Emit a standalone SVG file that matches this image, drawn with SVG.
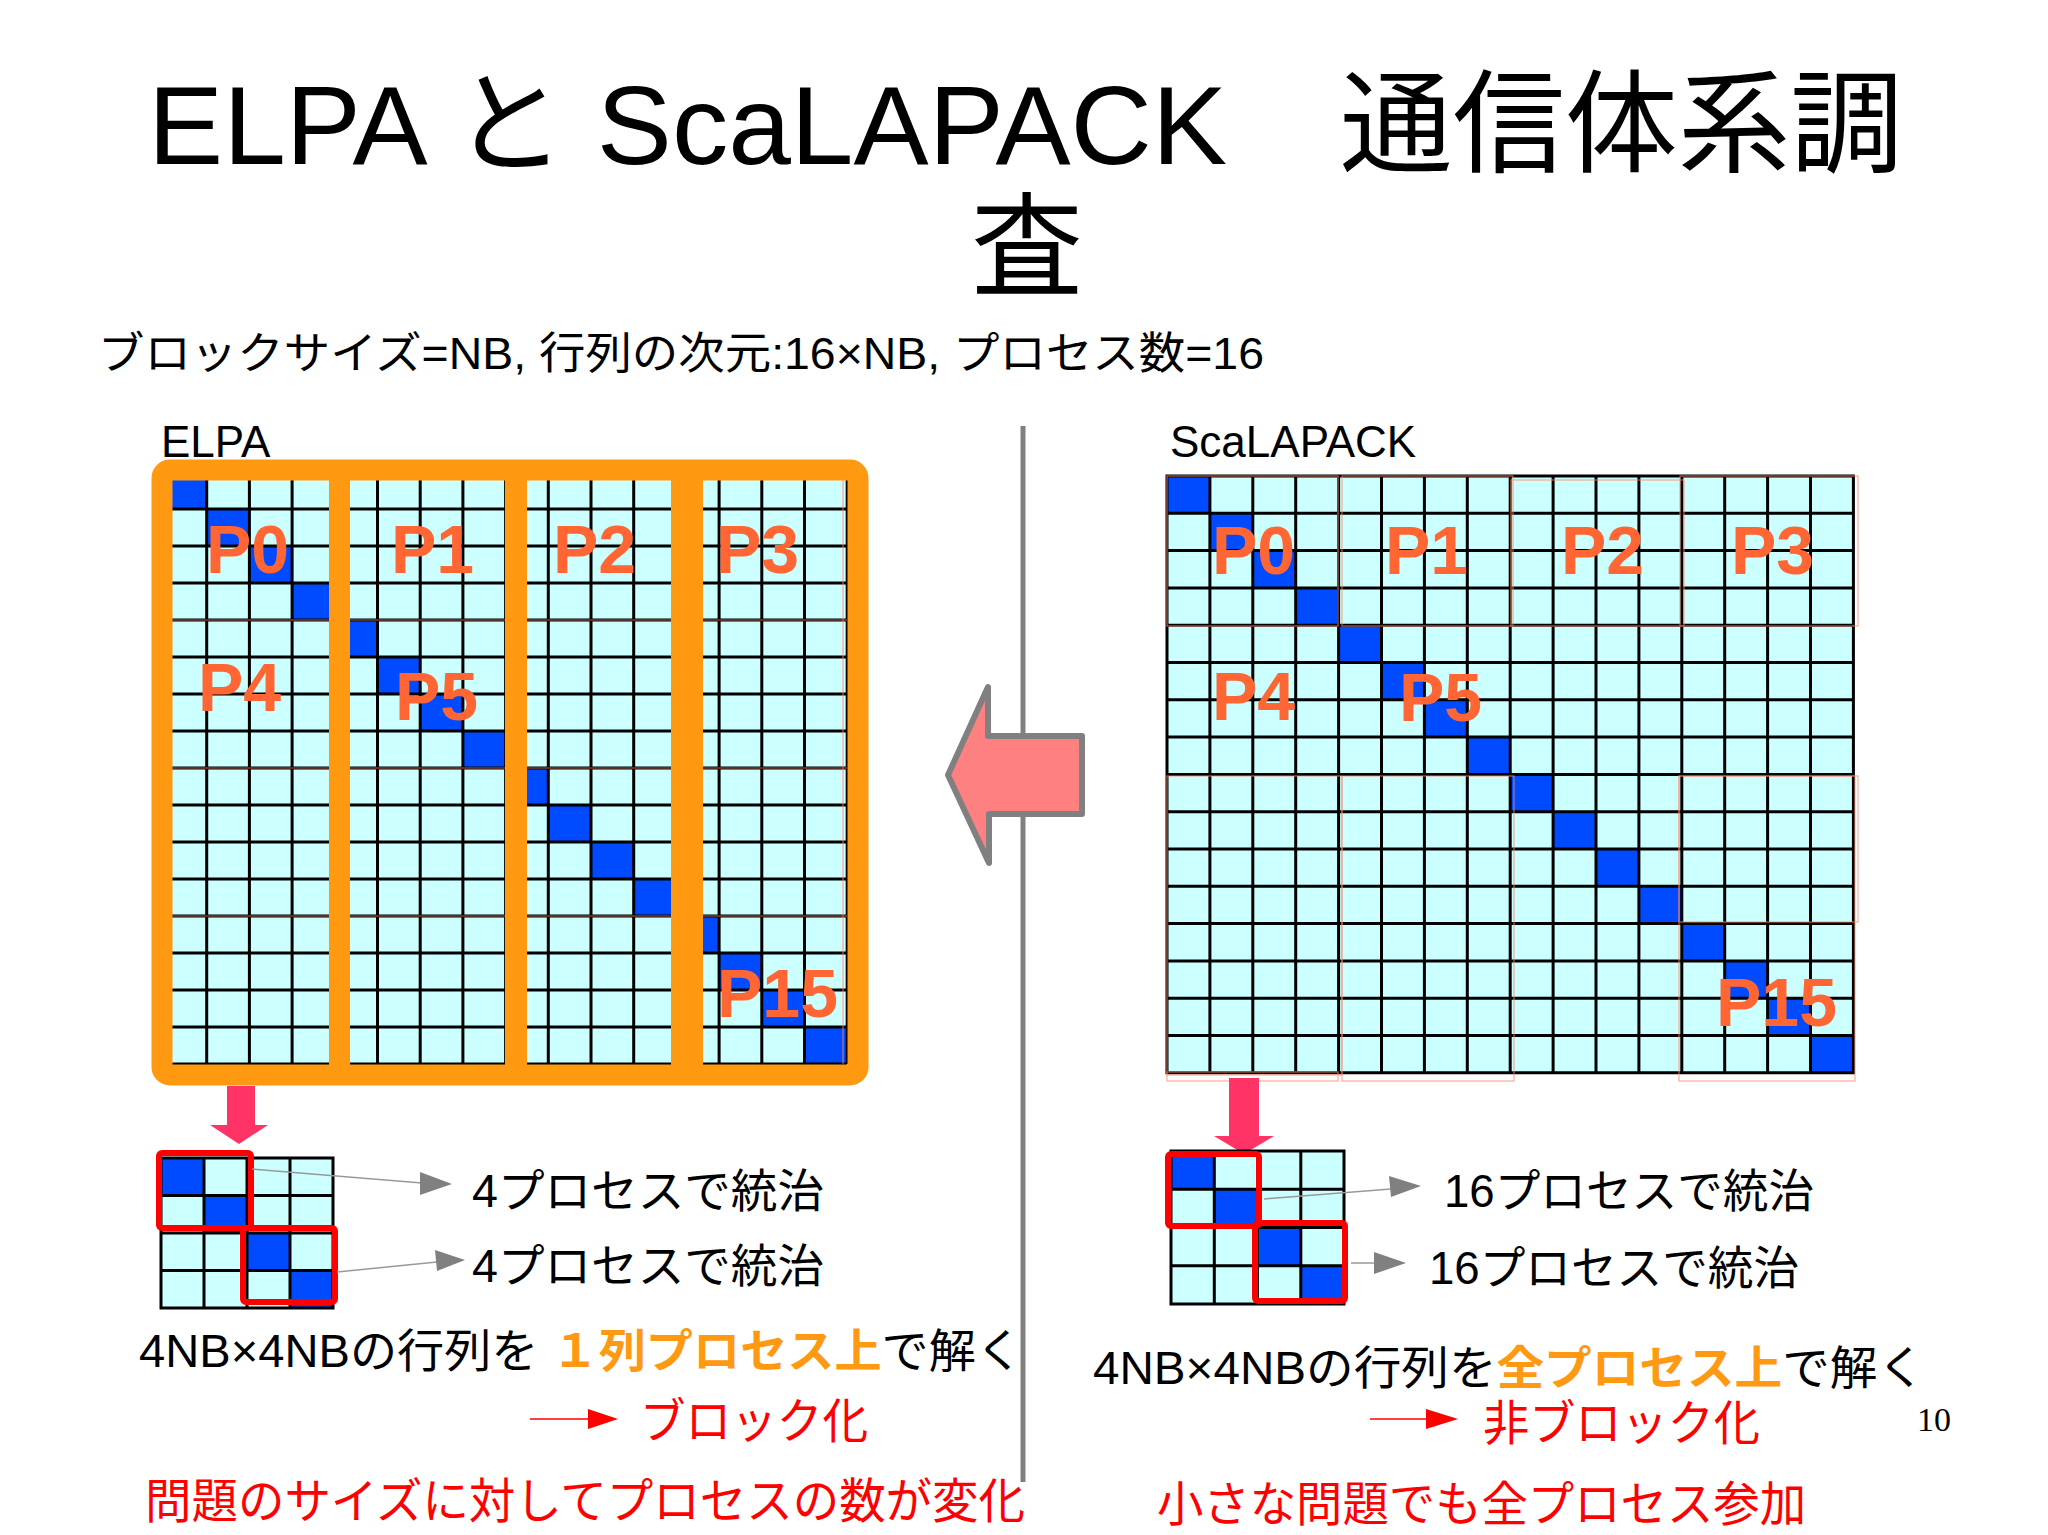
<svg xmlns="http://www.w3.org/2000/svg" width="2048" height="1535" viewBox="0 0 2048 1535">
<defs>
<style>
.t{font-family:"Liberation Sans","Noto Sans CJK JP",sans-serif;fill:#000}
.p{font-family:"Liberation Sans",sans-serif;font-weight:bold;font-size:68px;fill:#FF6633}
.gl{fill:none;stroke:#000;stroke-width:3}
.bl{fill:#004BFF}
.cy{fill:#CCFFFF}
.blk{fill:none;stroke:#FF8866;stroke-width:1.2;opacity:.7}
.red{fill:none;stroke:#FF0000;stroke-width:6}
.ga{stroke:#999;stroke-width:1.5}
.gt{fill:#808080}
.pk{fill:#FF3366}
</style>
</defs>
<rect width="2048" height="1535" fill="#fff"/>
<g id="title">
<text class="t" x="148" y="164" font-size="112" textLength="1755" lengthAdjust="spacingAndGlyphs">ELPA と ScaLAPACK　通信体系調</text>
<text class="t" x="1027" y="287" font-size="112" text-anchor="middle">査</text>
<text class="t" x="98" y="369" font-size="44" textLength="1166" lengthAdjust="spacingAndGlyphs">ブロックサイズ=NB, 行列の次元:16×NB, プロセス数=16</text>
</g>
<g id="divider"><line x1="1023" y1="426" x2="1023" y2="1482" stroke="#808080" stroke-width="5"/></g>
<g id="elpa">
<text class="t" x="161" y="457" font-size="44">ELPA</text>
<rect class="cy" x="164" y="472" width="683" height="592"/>
<g class="bl">
<rect x="164" y="472" width="42.7" height="37"/><rect x="206.7" y="509" width="42.7" height="37"/><rect x="249.4" y="546" width="42.7" height="37"/><rect x="292.1" y="583" width="42.7" height="37"/>
<rect x="334.8" y="620" width="42.7" height="37"/><rect x="377.5" y="657" width="42.7" height="37"/><rect x="420.2" y="694" width="42.7" height="37"/><rect x="462.9" y="731" width="42.7" height="37"/>
<rect x="505.6" y="768" width="42.7" height="37"/><rect x="548.3" y="805" width="42.7" height="37"/><rect x="591" y="842" width="42.7" height="37"/><rect x="633.7" y="879" width="42.7" height="37"/>
<rect x="676.4" y="916" width="42.7" height="37"/><rect x="719.1" y="953" width="42.7" height="37"/><rect x="761.8" y="990" width="42.7" height="37"/><rect x="804.5" y="1027" width="42.7" height="37"/>
</g>
<path class="gl" d="M206.7 472V1064M249.4 472V1064M292.1 472V1064M334.8 472V1064M377.5 472V1064M420.2 472V1064M462.9 472V1064M505.6 472V1064M548.3 472V1064M591 472V1064M633.7 472V1064M676.4 472V1064M719.1 472V1064M761.8 472V1064M804.5 472V1064M847.2 472V1064M164 509H847M164 546H847M164 583H847M164 620H847M164 657H847M164 694H847M164 731H847M164 768H847M164 805H847M164 842H847M164 879H847M164 916H847M164 953H847M164 990H847M164 1027H847M164 1064H847"/>
<g class="blk"><path d="M164 620H847M164 768H847M164 916H847M843 472V1064"/></g>
<g fill="#FF9911">
<rect x="329" y="470" width="21" height="605"/><rect x="505" y="470" width="22" height="605"/><rect x="671" y="470" width="32" height="605"/>
</g>
<rect x="162" y="470" width="696" height="605" rx="8" fill="none" stroke="#FF9911" stroke-width="21"/>
<text class="p" x="206" y="573">P0</text><text class="p" x="391" y="573">P1</text><text class="p" x="553" y="573">P2</text><text class="p" x="716" y="573">P3</text>
<text class="p" x="198" y="711">P4</text><text class="p" x="395" y="720">P5</text><text class="p" x="717" y="1017">P15</text>
</g>
<g id="scalapack">
<text class="t" x="1170" y="457" font-size="44">ScaLAPACK</text>
<rect class="cy" x="1167" y="476" width="686.4" height="596.8"/>
<g class="bl">
<rect x="1167" y="476" width="42.9" height="37.3"/><rect x="1209.9" y="513.3" width="42.9" height="37.3"/><rect x="1252.8" y="550.6" width="42.9" height="37.3"/><rect x="1295.7" y="587.9" width="42.9" height="37.3"/>
<rect x="1338.6" y="625.2" width="42.9" height="37.3"/><rect x="1381.5" y="662.5" width="42.9" height="37.3"/><rect x="1424.4" y="699.8" width="42.9" height="37.3"/><rect x="1467.3" y="737.1" width="42.9" height="37.3"/>
<rect x="1510.2" y="774.4" width="42.9" height="37.3"/><rect x="1553.1" y="811.7" width="42.9" height="37.3"/><rect x="1596" y="849" width="42.9" height="37.3"/><rect x="1638.9" y="886.3" width="42.9" height="37.3"/>
<rect x="1681.8" y="923.6" width="42.9" height="37.3"/><rect x="1724.7" y="960.9" width="42.9" height="37.3"/><rect x="1767.6" y="998.2" width="42.9" height="37.3"/><rect x="1810.5" y="1035.5" width="42.9" height="37.3"/>
</g>
<path class="gl" d="M1167 476H1853.4V1072.8H1167ZM1209.9 476V1073M1252.8 476V1073M1295.7 476V1073M1338.6 476V1073M1381.5 476V1073M1424.4 476V1073M1467.3 476V1073M1510.2 476V1073M1553.1 476V1073M1596 476V1073M1638.9 476V1073M1681.8 476V1073M1724.7 476V1073M1767.6 476V1073M1810.5 476V1073M1167 513.3H1853M1167 550.6H1853M1167 587.9H1853M1167 625.2H1853M1167 662.5H1853M1167 699.8H1853M1167 737.1H1853M1167 774.4H1853M1167 811.7H1853M1167 849H1853M1167 886.3H1853M1167 923.6H1853M1167 960.9H1853M1167 998.2H1853M1167 1035.5H1853"/>
<g class="blk">
<rect x="1167" y="476" width="171" height="150"/><rect x="1342" y="476" width="171" height="150"/><rect x="1511" y="480" width="173" height="146"/><rect x="1680" y="476" width="178" height="150"/>
<rect x="1167" y="776" width="175" height="299"/><rect x="1342" y="776" width="172" height="305"/><rect x="1679" y="776" width="179" height="146"/><rect x="1679" y="776" width="176" height="305"/>
<rect x="1167" y="1072" width="171" height="9"/>
</g>
<text class="p" x="1212" y="574">P0</text><text class="p" x="1385" y="574">P1</text><text class="p" x="1561" y="574">P2</text><text class="p" x="1731" y="574">P3</text>
<text class="p" x="1212" y="720">P4</text><text class="p" x="1399" y="721">P5</text><text class="p" x="1716" y="1026">P15</text>
</g>
<g id="convert-arrow">
<polygon points="948,775 988,687 988,736 1082,736 1082,814 989,814 989,863" fill="#FF8080" stroke="#808080" stroke-width="6" stroke-linejoin="round"/>
</g>
<g id="elpa-small">
<polygon class="pk" points="227,1086 255,1086 255,1125 268,1125 239,1144 210,1125 227,1125"/>
<rect class="cy" x="161" y="1158" width="172" height="150"/>
<g class="bl"><rect x="161" y="1158" width="43" height="37.5"/><rect x="204" y="1195.5" width="43" height="37.5"/><rect x="247" y="1233" width="43" height="37.5"/><rect x="290" y="1270.5" width="43" height="37.5"/></g>
<path class="gl" d="M161 1158H333V1308H161ZM204 1158V1308M247 1158V1308M290 1158V1308M161 1195.5H333M161 1233H333M161 1270.5H333"/>
<rect class="red" x="159" y="1153" width="92" height="75" rx="3"/>
<rect class="red" x="243" y="1228" width="92" height="74" rx="3"/>
<text class="t" x="472" y="1207" font-size="46" textLength="352" lengthAdjust="spacingAndGlyphs">4プロセスで統治</text>
<text class="t" x="472" y="1282" font-size="46" textLength="352" lengthAdjust="spacingAndGlyphs">4プロセスで統治</text>
<text class="t" x="139" y="1367" font-size="46" textLength="884" lengthAdjust="spacingAndGlyphs">4NB×4NBの行列を <tspan fill="#FF9911" font-weight="bold">１列プロセス上</tspan>で解く</text>
<line x1="530" y1="1419" x2="592" y2="1419" stroke="#FF0000" stroke-width="1.5"/>
<polygon points="588,1409 618,1419 588,1429" fill="#FF0000"/>
<text x="640" y="1438" font-size="48" fill="#FF0000" font-family="'Liberation Sans','Noto Sans CJK JP',sans-serif" textLength="228" lengthAdjust="spacingAndGlyphs">ブロック化</text>
<text x="145" y="1518" font-size="48" fill="#FF0000" font-family="'Liberation Sans','Noto Sans CJK JP',sans-serif" textLength="880" lengthAdjust="spacingAndGlyphs">問題のサイズに対してプロセスの数が変化</text>
</g>
<g id="scalapack-small">
<polygon class="pk" points="1229,1078 1259,1078 1259,1136 1274,1136 1244,1154 1214,1136 1229,1136"/>
<rect class="cy" x="1171" y="1151" width="173" height="153"/>
<g class="bl"><rect x="1171" y="1151" width="43.3" height="38.3"/><rect x="1214.3" y="1189.3" width="43.2" height="38.2"/><rect x="1257.5" y="1227.5" width="43.3" height="38.3"/><rect x="1300.8" y="1265.8" width="43.2" height="38.2"/></g>
<path class="gl" d="M1171 1151H1344V1304H1171ZM1214.3 1151V1304M1257.5 1151V1304M1300.8 1151V1304M1171 1189.3H1344M1171 1227.5H1344M1171 1265.8H1344"/>
<rect class="red" x="1168" y="1154" width="91" height="72" rx="3"/>
<rect class="red" x="1255" y="1223" width="90" height="78" rx="3"/>
<text class="t" x="1444" y="1207" font-size="46" textLength="370" lengthAdjust="spacingAndGlyphs">16プロセスで統治</text>
<text class="t" x="1429" y="1284" font-size="46" textLength="370" lengthAdjust="spacingAndGlyphs">16プロセスで統治</text>
<text class="t" x="1093" y="1384" font-size="46" textLength="832" lengthAdjust="spacingAndGlyphs">4NB×4NBの行列を<tspan fill="#FF9911" font-weight="bold">全プロセス上</tspan>で解く</text>
<line x1="1370" y1="1419" x2="1430" y2="1419" stroke="#FF0000" stroke-width="1.5"/>
<polygon points="1426,1409 1458,1419 1426,1429" fill="#FF0000"/>
<text x="1483" y="1440" font-size="48" fill="#FF0000" font-family="'Liberation Sans','Noto Sans CJK JP',sans-serif" textLength="277" lengthAdjust="spacingAndGlyphs">非ブロック化</text>
<text x="1157" y="1521" font-size="48" fill="#FF0000" font-family="'Liberation Sans','Noto Sans CJK JP',sans-serif" textLength="649" lengthAdjust="spacingAndGlyphs">小さな問題でも全プロセス参加</text>
<text x="1917" y="1431" font-size="34" fill="#000" font-family="'Liberation Serif',serif">10</text>
</g>
<g id="connectors">
<line class="ga" x1="252" y1="1169" x2="422" y2="1183"/><polygon class="gt" points="420,1172 452,1184 420,1195"/>
<line class="ga" x1="337" y1="1272" x2="437" y2="1262"/><polygon class="gt" points="435,1250 465,1260 437,1271"/>
<line class="ga" x1="1264" y1="1199" x2="1391" y2="1189"/><polygon class="gt" points="1389,1176 1421,1186 1391,1197"/>
<line class="ga" x1="1351" y1="1263" x2="1376" y2="1263"/><polygon class="gt" points="1374,1252 1406,1263 1374,1274"/>
</g>
</svg>
